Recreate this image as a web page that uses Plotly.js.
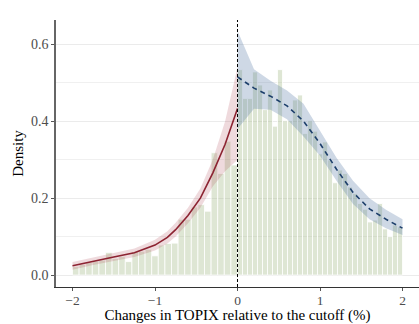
<!DOCTYPE html>
<html>
<head>
<meta charset="utf-8">
<script src="https://cdn.plot.ly/plotly-3.0.1.min.js"></script>
<style>html,body{margin:0;padding:0;background:#fff;}#chart{width:419px;height:324px;}</style>
</head>
<body>
<div id="chart"></div>
<script>
// Histogram (density) below the cutoff: 25 bins of width 0.08 from -2 to 0
const leftDensity = [0.022, 0.028, 0.033, 0.036, 0.039, 0.059, 0.043, 0.048, 0.035, 0.061,
  0.062, 0.067, 0.050, 0.078, 0.082, 0.083, 0.145, 0.145, 0.177, 0.183,
  0.166, 0.318, 0.264, 0.348, 0.286];
// Histogram (density) above the cutoff: 33 bins from 0 to 2
const rightDensity = [0.534, 0.459, 0.459, 0.528, 0.494, 0.430, 0.481, 0.387, 0.534, 0.401,
  0.401, 0.455, 0.468, 0.368, 0.401, 0.374, 0.315, 0.346, 0.299, 0.240,
  0.273, 0.264, 0.229, 0.212, 0.186, 0.171, 0.138, 0.143, 0.186, 0.120,
  0.100, 0.130, 0.125];
const leftStart = -2, leftEnd = 0, rightStart = 0, rightEnd = 2;

// Fitted density, left of cutoff
const fitLeftX  = [-2, -1.75, -1.5, -1.25, -1, -0.85, -0.75, -0.6, -0.45, -0.3, -0.15, 0];
const fitLeftY  = [0.024, 0.036, 0.047, 0.058, 0.078, 0.098, 0.118, 0.155, 0.2, 0.265, 0.34, 0.433];
const fitLeftLo = [0.014, 0.026, 0.037, 0.047, 0.064, 0.082, 0.100, 0.135, 0.175, 0.23, 0.27, 0.30];
const fitLeftHi = [0.034, 0.046, 0.057, 0.069, 0.092, 0.114, 0.136, 0.175, 0.225, 0.30, 0.40, 0.54];

// Fitted density, right of cutoff
const fitRightX  = [0, 0.2, 0.4, 0.6, 0.8, 1.0, 1.2, 1.4, 1.6, 1.8, 2.0];
const fitRightY  = [0.515, 0.486, 0.465, 0.44, 0.40, 0.342, 0.275, 0.215, 0.172, 0.145, 0.122];
const fitRightLo = [0.38, 0.432, 0.43, 0.405, 0.36, 0.31, 0.245, 0.185, 0.145, 0.122, 0.104];
const fitRightHi = [0.635, 0.535, 0.505, 0.48, 0.445, 0.375, 0.305, 0.245, 0.20, 0.17, 0.145];

const xTickVals = [-2, -1, 0, 1, 2];
const xTickText = ['\u22122', '\u22121', '0', '1', '2'];
const yTickVals = [0, 0.2, 0.4, 0.6];
const yTickText = ['0.0', '0.2', '0.4', '0.6'];

function centers(vals, a, b) {
  const w = (b - a) / vals.length;
  return {x: vals.map((_, i) => a + w * (i + 0.5)), w: w};
}
const lc = centers(leftDensity, leftStart, leftEnd);
const rc = centers(rightDensity, rightStart, rightEnd);

const barColor = 'rgba(164,186,135,0.36)';
function bars(c, vals) {
  return {type: 'bar', x: c.x, y: vals, width: c.w,
    marker: {color: barColor, line: {color: '#ffffff', width: 0.8}},
    hoverinfo: 'skip', showlegend: false};
}
function band(xs, lo, hi, color) {
  return {type: 'scatter', mode: 'lines',
    x: xs.concat(xs.slice().reverse()),
    y: hi.concat(lo.slice().reverse()),
    fill: 'toself', fillcolor: color, line: {width: 0}, hoverinfo: 'skip', showlegend: false};
}

const data = [
  bars(lc, leftDensity),
  bars(rc, rightDensity),
  band(fitLeftX, fitLeftLo, fitLeftHi, 'rgba(175,70,85,0.2)'),
  band(fitRightX, fitRightLo, fitRightHi, 'rgba(80,115,160,0.28)'),
  {type: 'scatter', mode: 'lines', x: fitLeftX, y: fitLeftY,
    line: {color: '#8c2331', width: 1.6}, showlegend: false},
  {type: 'scatter', mode: 'lines', x: fitRightX, y: fitRightY,
    line: {color: '#1d3f6b', width: 1.6, dash: '5px,4px'}, showlegend: false}
];

const fontFam = '"Liberation Serif", "Times New Roman", serif';
const layout = {
  width: 419, height: 324,
  margin: {l: 56, r: 0, t: 20, b: 37},
  paper_bgcolor: '#ffffff', plot_bgcolor: '#ffffff',
  barmode: 'overlay', bargap: 0,
  font: {family: fontFam, size: 14, color: '#4d4d4d'},
  xaxis: {
    range: [-2.2, 2.2], tickvals: xTickVals, ticktext: xTickText,
    showgrid: false, zeroline: false,
    showline: true, linecolor: '#333333', linewidth: 1.2,
    ticks: 'outside', ticklen: 3, tickcolor: '#555555',
    ticklabelstandoff: -2,
    tickfont: {family: fontFam, size: 13.5, color: '#4d4d4d'},
    title: {text: 'Changes in TOPIX relative to the cutoff (%)', standoff: 0,
      font: {family: fontFam, size: 15, color: '#000000'}}
  },
  yaxis: {
    range: [-0.031, 0.663], tickvals: yTickVals, ticktext: yTickText,
    showgrid: true, gridcolor: '#ebebeb', gridwidth: 1, zeroline: false,
    minor: {tickvals: [0.1, 0.3, 0.5], showgrid: true, gridcolor: '#f0f0f0', gridwidth: 1, ticks: ''},
    showline: true, linecolor: '#666666', linewidth: 1.6,
    ticks: 'outside', ticklen: 3, tickcolor: '#555555',
    tickfont: {family: fontFam, size: 14, color: '#4d4d4d'},
    title: {text: 'Density', standoff: 4,
      font: {family: fontFam, size: 15, color: '#000000'}}
  },
  shapes: [{type: 'line', xref: 'x', yref: 'paper', x0: 0, x1: 0, y0: 0, y1: 1,
    line: {color: '#000000', width: 1, dash: '3px,2px'}}]
};

Plotly.newPlot('chart', data, layout, {displayModeBar: false, staticPlot: true});
</script>
</body>
</html>
